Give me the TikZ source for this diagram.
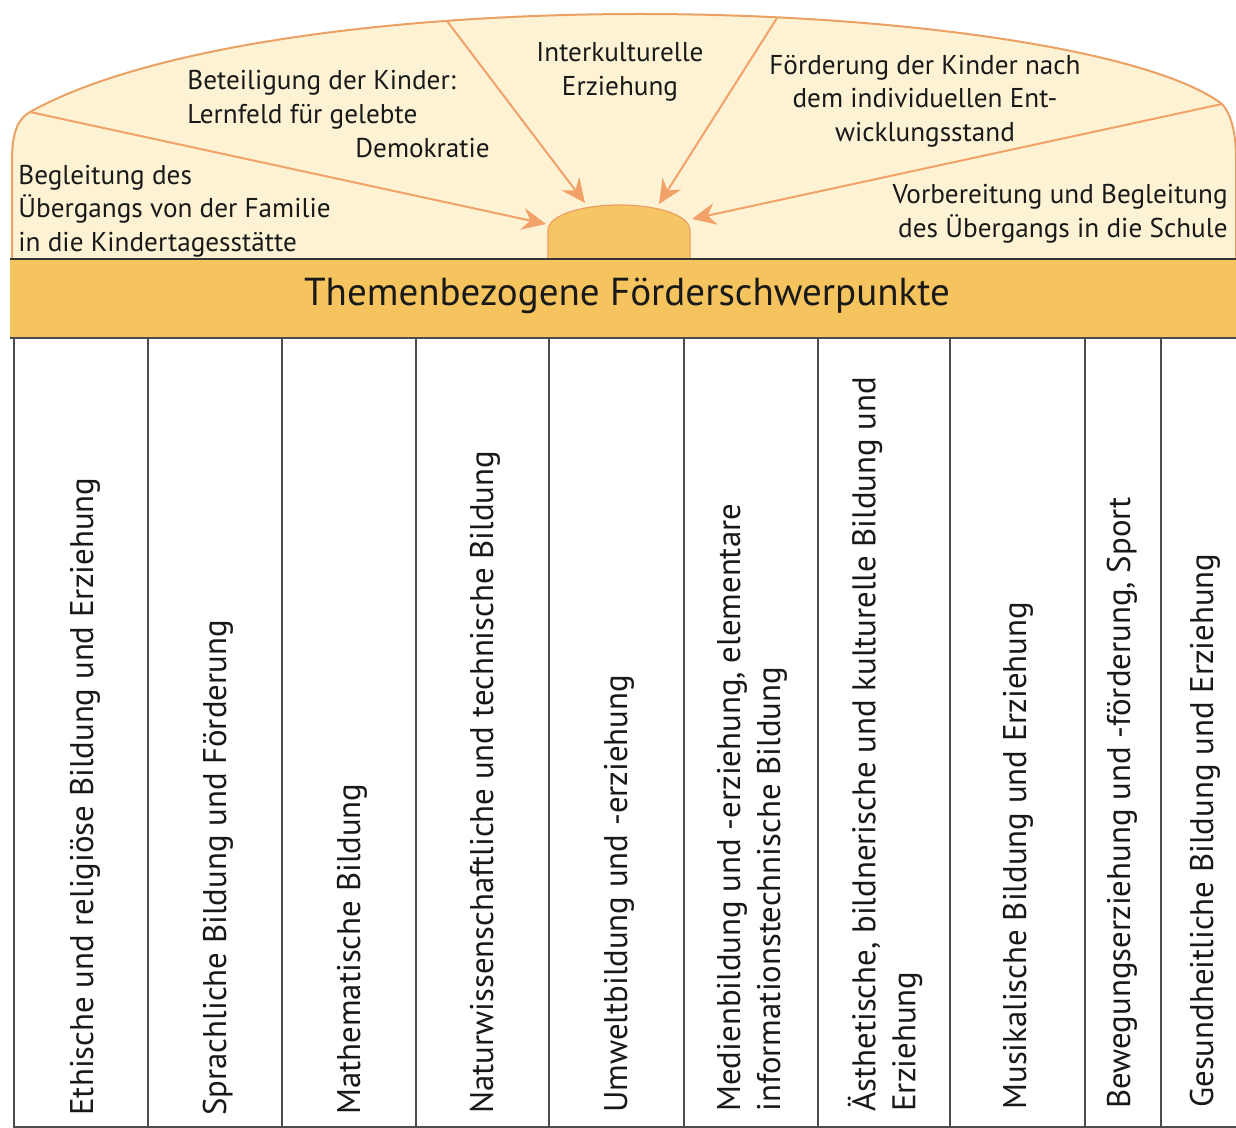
\documentclass[tikz,border=0pt]{standalone}
\usepackage{fontspec}
\usetikzlibrary{arrows.meta}
\newfontfamily\topfont{PT Sans}
\newfontfamily\colfont{PT Sans}
\definecolor{domefill}{HTML}{FDF3D4}
\definecolor{domeline}{HTML}{EBA064}
\definecolor{rayline}{HTML}{F2A268}
\definecolor{sunfill}{HTML}{F6C564}
\definecolor{bannerfill}{HTML}{F5C45E}

\begin{document}
\begin{tikzpicture}[x=0.5pt,y=-0.5pt,
  top text/.style={font=\topfont\fontsize{13.6}{16.8}\selectfont,inner sep=0pt,text=black!90},
  col text/.style={font=\colfont\fontsize{16.4}{20}\selectfont,rotate=90,anchor=west,align=left,inner sep=0pt,text=black!90},
  ray/.style={draw=rayline,line width=1pt,-{Stealth[length=12pt,width=11pt,inset=4pt]}}]
  \useasboundingbox (0,0) rectangle (1236,1128);

  % dome
  \path[draw=domeline,fill=domefill,line width=1pt]
    (12,258) -- (12,160) .. controls (12,128) and (20,118) .. (30,112)
    .. controls (150,45) and (400,14) .. (640,14)
    .. controls (900,14) and (1150,50) .. (1222,104)
    .. controls (1232,115) and (1236,135) .. (1236,160) -- (1236,258);

  % sun
  \path[draw=domeline,fill=sunfill,line width=0.6pt]
    (548,258) -- (548,230) .. controls (549,214) and (585,205) .. (619,205)
    .. controls (655,205) and (689,214) .. (690,230) -- (690,258);

  \coordinate (r1) at (30,112);
  \coordinate (r2) at (447,21);
  \coordinate (r3) at (777,18);
  \coordinate (r4) at (1222,104);
  \coordinate (e1) at (546,224);
  \coordinate (e2) at (585,203);
  \coordinate (e3) at (659,204);
  \coordinate (e4) at (692,219);

  \path
   (r1) edge [ray] (e1)
   (r2) edge [ray] (e2)
   (r3) edge [ray] (e3)
   (r4) edge [ray] (e4);

  \node[top text,anchor=west,align=left] (begleitung) at (18,211)
    {Begleitung des\\Übergangs von der Familie\\in die Kindertagesstätte};
  \node[top text,anchor=west,align=left] (beteiligung) at (187,114)
    {Beteiligung der Kinder:\\Lernfeld für gelebte\\\hspace*{84pt}Demokratie};
  \node[top text,align=center] (interkultur) at (620,72)
    {Interkulturelle\\Erziehung};
  \node[top text,align=center] (foerderung) at (925,101)
    {Förderung der Kinder nach\\dem individuellen Ent-\\wicklungsstand};
  \node[top text,anchor=east,align=right] (vorbereitung) at (1228,214)
    {Vorbereitung und Begleitung\\des Übergangs in die Schule};

  % banner
  \fill[bannerfill] (10,259) rectangle (1236,338);
  \draw[line width=1pt,black!80] (10,259) -- (1236,259);
  \draw[line width=0.8pt,black!70] (10,338) -- (1236,338);
  \node[font=\topfont\fontsize{19.5}{22}\selectfont,text=black!90] (thema) at (627,296)
    {Themenbezogene Förderschwerpunkte};

  % columns
  \foreach \x in {14,148,282,416,549,684,818,950,1085,1161}
    \draw[line width=0.7pt,black!70] (\x,338) -- (\x,1128);
  \draw[line width=0.7pt,black!70] (14,1127) -- (1236,1127);

  \node[col text] (c1) at (85,1116) {Ethische und religiöse Bildung und Erziehung};
  \node[col text] (c2) at (218,1116) {Sprachliche Bildung und Förderung};
  \node[col text] (c3) at (352,1115) {Mathematische Bildung};
  \node[col text] (c4) at (485,1114) {Naturwissenschaftliche und technische Bildung};
  \node[col text] (c5) at (619,1113) {Umweltbildung und -erziehung};
  \node[col text] (c6) at (752,1112) {Medienbildung und -erziehung, elementare\\informationstechnische Bildung};
  \node[col text] (c7) at (885,1112) {Ästhetische, bildnerische und kulturelle Bildung und\\Erziehung};
  \node[col text] (c8) at (1018,1110) {Musikalische Bildung und Erziehung};
  \node[col text] (c9) at (1122,1109) {Bewegungserziehung und -förderung, Sport};
  \node[col text] (c10) at (1205,1108) {Gesundheitliche Bildung und Erziehung};
\end{tikzpicture}
\end{document}
